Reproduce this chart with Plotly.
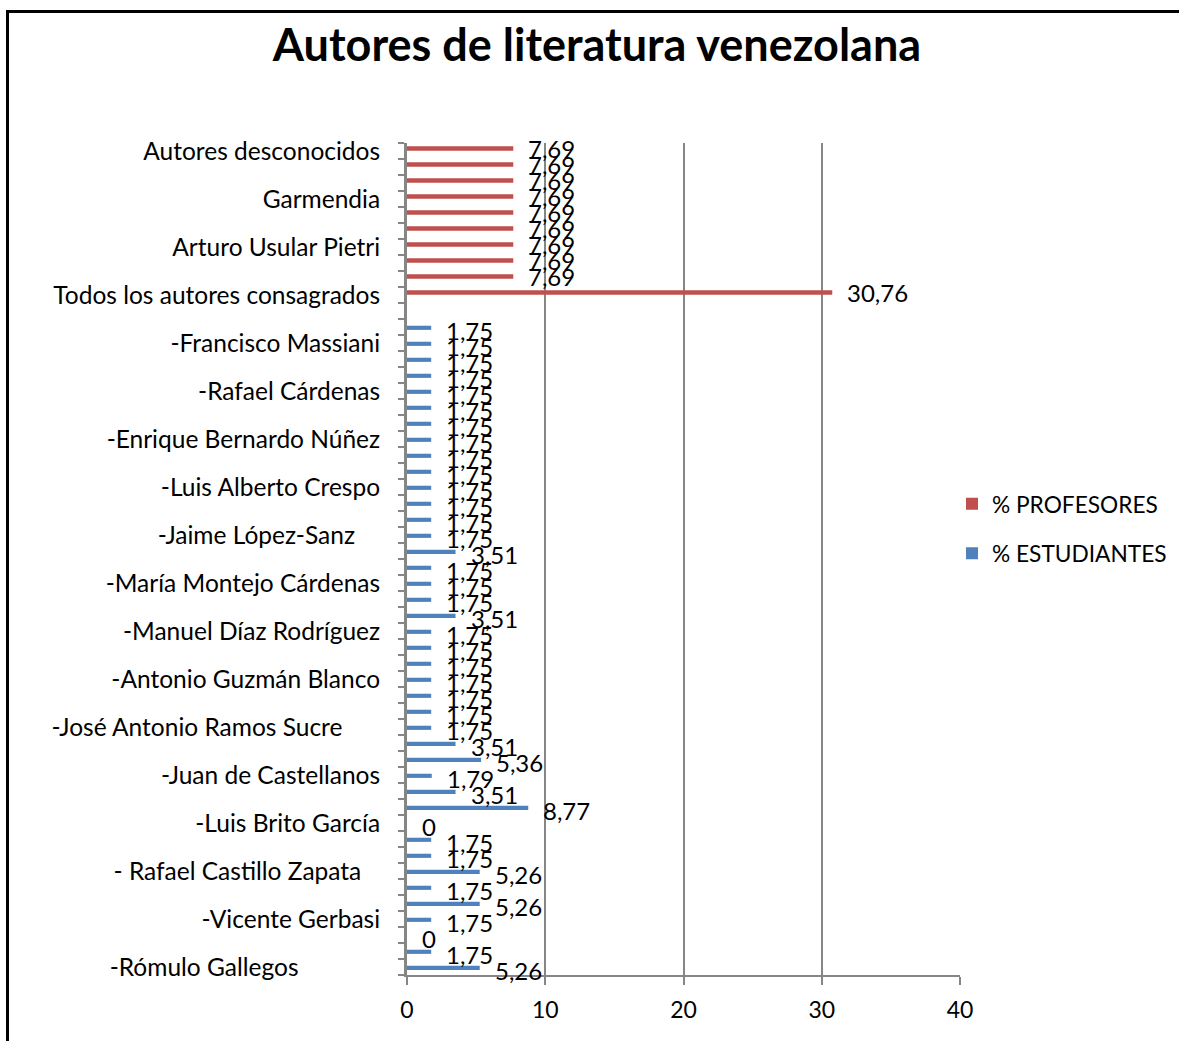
import plotly.graph_objects as go

# ---- data ----
n_categories = 52
# labels shown on the axis (every third category, bottom to top)
shown_labels = [
    "-Rómulo Gallegos" + "\u00a0" * 13,
    "-Vicente Gerbasi",
    "- Rafael Castillo Zapata" + "\u00a0" * 3,
    "-Luis Brito García",
    "-Juan de Castellanos",
    "-José Antonio Ramos Sucre" + "\u00a0" * 6,
    "-Antonio Guzmán Blanco",
    "-Manuel Díaz Rodríguez",
    "-María Montejo Cárdenas",
    "-Jaime López-Sanz" + "\u00a0" * 4,
    "-Luis Alberto Crespo",
    "-Enrique Bernardo Núñez",
    "-Rafael Cárdenas",
    "-Francisco Massiani",
    "Todos los autores consagrados",
    "Arturo Usular Pietri",
    "Garmendia",
    "Autores desconocidos",
]
label_index = list(range(1, n_categories + 1, 3))

# % ESTUDIANTES, categories 1..52 (bottom to top)
estudiantes = [
    5.26, 1.75, 0, 1.75, 5.26, 1.75, 5.26, 1.75, 1.75, 0,
    8.77, 3.51, 1.79, 5.36, 3.51, 1.75, 1.75, 1.75, 1.75, 1.75,
    1.75, 1.75, 3.51, 1.75, 1.75, 1.75, 3.51, 1.75, 1.75, 1.75,
    1.75, 1.75, 1.75, 1.75, 1.75, 1.75, 1.75, 1.75, 1.75, 1.75,
    1.75, None, None, None, None, None, None, None, None, None,
    None, None,
]
# % PROFESORES, categories 1..52 (bottom to top)
profesores = [None] * 42 + [30.76, 7.69, 7.69, 7.69, 7.69, 7.69, 7.69, 7.69, 7.69, 7.69]

positions = list(range(1, n_categories + 1))

RED = "#C0504D"
BLUE = "#4F81BD"
GRAY = "#868686"
FONT = "Lato"

fig = go.Figure()
fig.add_trace(go.Bar(
    y=positions, x=profesores, orientation="h", name="% PROFESORES",
    marker=dict(color=RED, line=dict(width=0)), width=0.27, offset=0.02,
    legendgroup="p", hoverinfo="x+name",
))
fig.add_trace(go.Bar(
    y=positions, x=estudiantes, orientation="h", name="% ESTUDIANTES",
    marker=dict(color=BLUE, line=dict(width=0)), width=0.26, offset=-0.18,
    legendgroup="e", hoverinfo="x+name",
))

def fmt(v):
    return f"{v:.2f}".rstrip("0").rstrip(".").replace(".", ",") if v != 0 else "0"

annotations = []
for series, yshift in ((profesores, 3), (estudiantes, -3)):
    for pos, v in zip(positions, series):
        if v is None:
            continue
        annotations.append(dict(
            x=v, y=pos, xref="x", yref="y", text=fmt(v), showarrow=False,
            xanchor="left", yanchor="middle", xshift=13, yshift=yshift,
            font=dict(family=FONT, size=24, color="black"),
        ))

# outer frame (top and left border)
fx = (7.5 - 407) / 553
fy = (975 - 11.5) / 832
frame = dict(
    type="path", xref="paper", yref="paper",
    path=f"M {fx},-0.2 L {fx},{fy} L 1.5,{fy}",
    line=dict(color="black", width=3),
)

fig.update_layout(
    width=1179, height=1041,
    margin=dict(l=407, r=219, t=143, b=66, autoexpand=False),
    paper_bgcolor="white", plot_bgcolor="white",
    barmode="overlay",
    font=dict(family=FONT, size=22, color="black"),
    title=dict(
        text="<b>Autores de literatura venezolana</b>",
        font=dict(family=FONT, size=45, color="black"),
        x=597 / 1179, xanchor="center", xref="container",
        y=1 - 45 / 1041, yanchor="middle", yref="container",
    ),
    showlegend=True,
    legend=dict(
        x=(952 - 407) / 553, xanchor="left",
        y=(975 - 529) / 832, yanchor="middle",
        font=dict(family=FONT, size=22.7, color="black"),
        tracegroupgap=17, traceorder="grouped",
        bgcolor="rgba(0,0,0,0)",
    ),
    xaxis=dict(
        range=[0, 40], dtick=10, tick0=0,
        showgrid=True, gridcolor=GRAY, gridwidth=2, zeroline=False,
        showline=True, linecolor=GRAY, linewidth=2,
        ticks="outside", ticklen=8, tickcolor=GRAY, tickwidth=2,
        ticklabelstandoff=5,
        tickfont=dict(family=FONT, size=23, color="black"),
    ),
    yaxis=dict(
        range=[0.5, n_categories + 0.5],
        tickmode="array", tickvals=label_index, ticktext=shown_labels,
        ticks="", showgrid=False, zeroline=False,
        showline=True, linecolor=GRAY, linewidth=3,
        ticklabelstandoff=19,
        tickfont=dict(family=FONT, size=24.5, color="black"),
        minor=dict(tickmode="linear", tick0=0.5, dtick=1, ticks="outside",
                   ticklen=6, tickcolor=GRAY, tickwidth=2, showgrid=False),
    ),
    annotations=annotations,
    shapes=[frame],
)

fig.write_html(
    "out.html",
    config={"displayModeBar": False},
    post_script="document.body.style.margin='0';document.body.style.overflow='hidden';",
)
